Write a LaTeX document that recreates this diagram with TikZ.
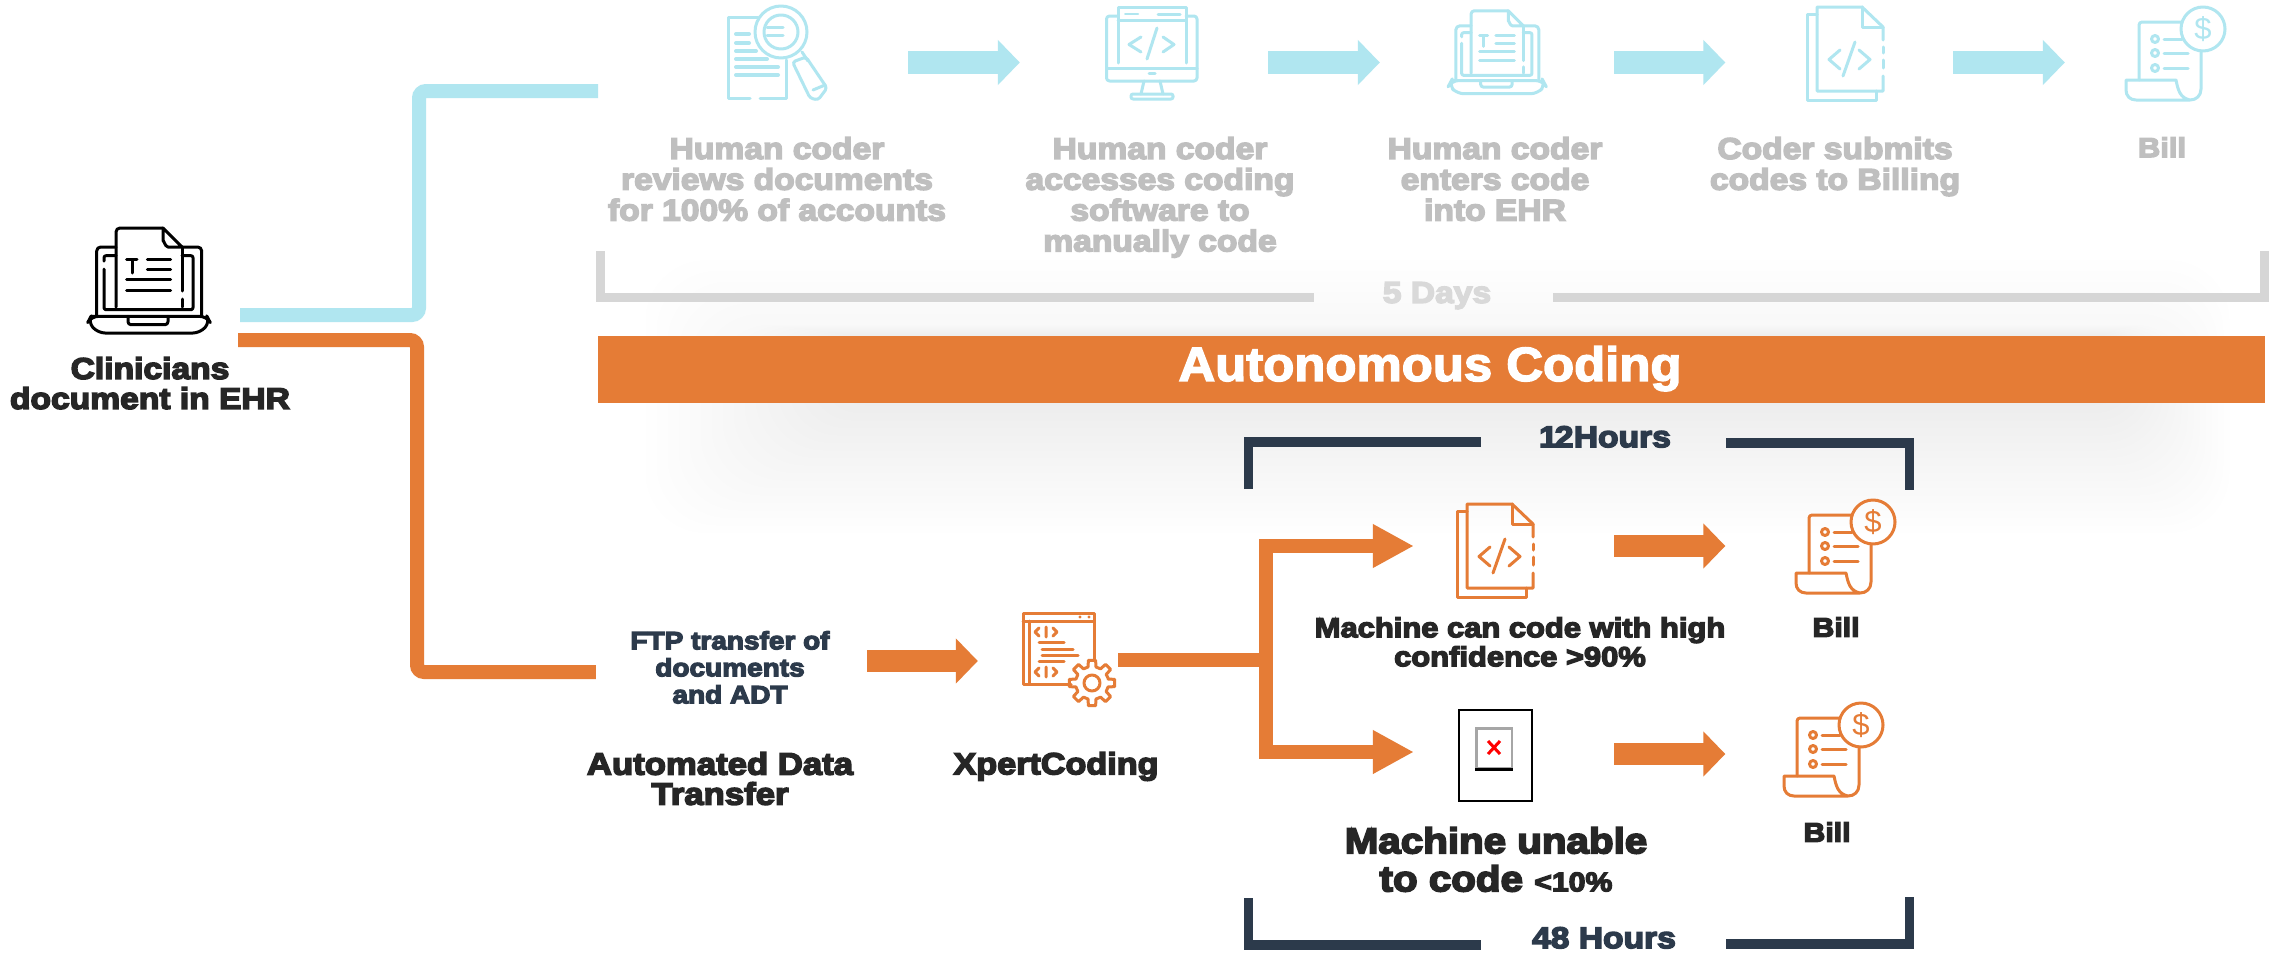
\documentclass[tikz,border=0pt]{standalone}
\usepackage{fontspec}
\usetikzlibrary{arrows.meta}
\setmainfont{Liberation Sans}
\newfontfamily\blk[FakeBold=5,FakeStretch=1.12]{Liberation Sans Bold}
\newfontfamily\blkb[FakeBold=3,FakeStretch=1.06]{Liberation Sans Bold}
\definecolor{lblue}{HTML}{B0E6F0}
\definecolor{orng}{HTML}{E57C36}
\definecolor{navy}{HTML}{2C3A4B}
\definecolor{gtext}{HTML}{BFBFBF}
\definecolor{gfaint}{HTML}{D9D9D9}
\definecolor{gbrack}{HTML}{D6D6D6}
\definecolor{dark}{HTML}{262626}
\newcommand{\fnt}[2]{\blk\fontsize{#1}{#2}\selectfont}
\tikzset{
  icon/.style={line width=3pt,line cap=round,line join=round},
  lbl/.style={anchor=north,align=center,inner sep=0pt,text=dark},
  glbl/.style={lbl,text=gtext,font=\fnt{30}{30.8}},
  slot/.style={inner sep=0pt,minimum height=1pt},
  bluewire/.style={draw=lblue,line width=14pt,rounded corners=7pt},
  orgwire/.style={draw=orng,line width=14pt,rounded corners=7pt},
  orgbranch/.style={draw=orng,line width=14pt,-{Triangle[length=41pt,width=41pt]}},
  orgplain/.style={draw=orng,line width=14pt},
  bluearrow/.style={draw=lblue,line width=23pt,-{Triangle[length=22pt,width=44pt]}},
  orgarrow/.style={draw=orng,line width=22pt,-{Triangle[length=22pt,width=44pt]}},
  gbr/.style={draw=gbrack,line width=9pt},
  nbr/.style={draw=navy,line width=9.5pt},
  pics/billicon/.style={code={
    \begin{scope}[icon]
    \draw (77,23) circle (22);
    \node[inner sep=0pt,font=\fontsize{31}{31}\selectfont] (dollar) at (77,23) {\$};
    \draw[rounded corners=3pt] (55,16) -- (13,16) -- (13,74);
    \draw (75,45) -- (75,83) .. controls (75,90) and (70,94) .. (64,94) -- (10,94) .. controls (4,94) and (0,90) .. (0,84) -- (0,74) -- (50,74) .. controls (52,84) and (54,92) .. (64,94);
    \draw (29,33) circle (3.5) (29,47) circle (3.5) (29,62) circle (3.5);
    \draw (38,33) -- (56,33) (38,47) -- (62,47) (38,62) -- (62,62);
    \end{scope}}},
  pics/doccode/.style={code={
    \begin{scope}[icon]
    \draw (76,34) -- (76,21) -- (55,1) -- (10,1) -- (10,85) -- (76,85) -- (76,70);
    \draw (55,1) -- (55,21) -- (76,21);
    \draw (76,41) -- (76,47) (76,54) -- (76,62);
    \draw (10,8) -- (0,8) -- (0,94) -- (69,94) -- (69,85);
    \draw (33,44) -- (22,53.5) -- (33,63);
    \draw (48,36) -- (36,70);
    \draw (52,44) -- (63,53.5) -- (52,63);
    \end{scope}}},
  pics/laptopdoc/.style={code={
    \begin{scope}[icon]
    \draw (75,1) -- (32,1) to[out=180,in=90] (28,5) -- (28,80);
    \draw (75,1) -- (94,20) -- (80,20) to[out=180,in=90] (75,14) -- (75,1);
    \draw (94,20) -- (94,64) (94,72) -- (94,80);
    \draw[rounded corners=4pt] (28,20) -- (8.7,20) -- (8.7,89);
    \draw[rounded corners=4pt] (94,20) -- (113.7,20) -- (113.7,89);
    \draw[rounded corners=2pt] (28,28.7) -- (16,28.7) -- (16,34);
    \draw[rounded corners=2pt] (16,42) -- (16,82.7) -- (105,82.7) -- (105,28.7) -- (94,28.7);
    \draw[rounded corners=7pt] (3,89.4) -- (119,89.4) -- (122,95) -- (112,106) -- (10,106) -- (0,95) -- (3,89.4) -- (5,89.4);
    \draw[rounded corners=3pt] (40,89.4) -- (40,97.7) -- (80,97.7) -- (80,89.4);
    \draw (38.7,32.7) -- (49,32.7) (44,32.7) -- (44,46);
    \draw (59.3,32.7) -- (82.7,32.7) (59.3,42.7) -- (82.7,42.7);
    \draw (38.7,52.7) -- (82.7,52.7) (38.7,63.7) -- (82.7,63.7);
    \end{scope}}},
  pics/searchdoc/.style={code={
    \begin{scope}[icon]
    \draw (30,12) -- (0,12) -- (0,93) -- (22,93) (32,93) -- (58,93) -- (58,55);
    \draw[line width=4pt] (8,29) -- (21,29) (8,38) -- (21,38) (8,46) -- (28,46) (8,54) -- (39,54) (8,62) -- (50,62) (8,70) -- (50,70);
    \draw (53,27) circle (26) (53,27) circle (17);
    \draw (39,22) -- (55,22) (39,30) -- (55,30);
    \draw (74,47) -- (80,56);
    \draw[rounded corners=3pt] (64.5,57) -- (78,52) -- (99,83) -- (90,95) -- (82,93) -- cycle;
    \draw (85,85) -- (97,80);
    \end{scope}}},
  pics/monitorcode/.style={code={
    \begin{scope}[icon]
    \draw (13,57) -- (13,1) -- (81,1) -- (81,57);
    \draw (13,14.7) -- (81,14.7);
    \draw[line width=2pt] (20,8) -- (33,8);
    \draw (53,8) -- (75,8);
    \draw[rounded corners=3pt] (13,10) -- (1.5,10) -- (1.5,75) -- (92,75) -- (92,10) -- (81,10);
    \draw (1.5,62) -- (92,62);
    \draw (44,67) -- (50,67);
    \draw (39,75) -- (36,88) (55,75) -- (58,88);
    \draw[rounded corners=2pt] (26,93) -- (26,88) -- (68,88) -- (68,93) -- cycle;
    \draw (36,31) -- (24,38.5) -- (36,46);
    \draw (52,22) -- (42,53);
    \draw (58,31) -- (69,38.5) -- (58,46);
    \end{scope}}},
  pics/windowgear/.style={code={
    \begin{scope}[icon]
    \draw (48,71) -- (0,71) -- (0,0) -- (71,0) -- (71,47);
    \draw (0,8) -- (71,8) (6,8) -- (6,71);
    \fill (57,4) circle (1.6) (66,4) circle (1.6);
    \draw (16,15) -- (12,19) -- (16,23) (23,14) -- (23,24) (30,15) -- (34,19) -- (30,23);
    \draw (16,55) -- (12,59) -- (16,63) (23,54) -- (23,64) (30,55) -- (34,59) -- (30,63);
    \draw (16,29) -- (41,29) (19,36) -- (50,36) (19,42) -- (55,42) (16,48) -- (41,48);
    \draw[shift={(69,70)}] (-14:17) \foreach \a in {0,45,...,315} { -- (\a-14:16.5) -- (\a-9:23) -- (\a+9:23) -- (\a+14:16.5) } -- cycle;
    \draw (69,70) circle (8);
    \end{scope}}}
}
\begin{document}
\begin{tikzpicture}[x=1pt,y=-1pt]
\useasboundingbox (0,0) rectangle (2279,953);
\fill[white] (0,0) rectangle (2279,953);
% soft shadow round the banner
\foreach \i in {1,...,18}{
  \pgfmathsetmacro{\p}{\i*0.39}
  \pgfmathsetmacro{\yt}{\i<=7 ? 250+75*\i/7 : 325+(\i-7)}
  \pgfmathsetmacro{\yb}{540-\i*7.5}
  \pgfmathsetmacro{\xl}{635+\i*11}
  \pgfmathsetmacro{\xr}{2235-\i*6}
  \pgfmathsetmacro{\rr}{min(60,(\yb-\yt)/2.1)}
  \fill[black!\p!white,rounded corners=\rr pt] (\xl,\yt) rectangle (\xr,\yb);
}
% banner
\node[fill=orng,minimum width=1667pt,minimum height=67pt,inner sep=0pt] (banner) at (1431.5,369.5) {};
\node[anchor=north,inner sep=0pt,text=white,font=\blkb\fontsize{48}{48}\selectfont] (bantext) at (1430,346) {Autonomous Coding};
% slots the arrows join
\node[slot,minimum width=310pt] (ic1) at (753,62.5) {};
\node[slot,minimum width=248pt] (ic2) at (1144,62.5) {};
\node[slot,minimum width=234pt] (ic3) at (1497,62.5) {};
\node[slot,minimum width=227.5pt] (ic4) at (1839.25,62.5) {};
\node[slot,minimum width=170pt] (ic5) at (2150,62.5) {};
\node[slot,minimum width=180pt] (lap) at (150,327.5) {};
\node[slot,minimum width=271pt] (ftpb) at (731.5,661) {};
\node[slot,minimum width=140pt] (xpb) at (1048,661) {};
\node[slot,minimum width=200pt] (hc) at (1514,546) {};
\node[slot,minimum width=200pt] (nc) at (1514,752) {};
\node[slot,minimum width=155pt] (bi1) at (1803,546) {};
\node[slot,minimum width=155pt] (bi2) at (1803,754) {};
\coordinate (bluetop) at (598,91);
\coordinate (bluecol) at (419,200);
\coordinate (orgcol) at (417,500);
\coordinate (split) at (1266,660);
% connectors
\draw[bluewire] ([yshift=12.5pt]lap.east) -| (bluecol) |- (bluetop);
\draw[orgwire] ([xshift=-2pt,yshift=-12.5pt]lap.east) -| (orgcol) |- ([yshift=-11pt]ftpb.west);
\draw[bluearrow] (ic1.east) -- (ic2.west);
\draw[bluearrow] (ic2.east) -- (ic3.west);
\draw[bluearrow] (ic3.east) -- (ic4.west);
\draw[bluearrow] (ic4.east) -- (ic5.west);
\draw[orgarrow] (ftpb.east) -- (xpb.west);
\draw[orgplain] ([yshift=1pt]xpb.east) -- (split);
\draw[orgbranch] (split) |- (hc.west);
\draw[orgbranch] (split) |- (nc.west);
\draw[orgarrow] (hc.east) -- (bi1.west);
\draw[orgarrow] ([yshift=-2pt]nc.east) -- (bi2.west);
% brackets
\draw[gbr] (600.5,251) -- (600.5,297.5) -- (1314,297.5);
\draw[gbr] (1553,297.5) -- (2264.5,297.5) -- (2264.5,251);
\draw[nbr] (1248.5,489) -- (1248.5,442) -- (1481,442);
\draw[nbr] (1726,443) -- (1909.5,443) -- (1909.5,490);
\draw[nbr] (1248.5,898) -- (1248.5,945) -- (1481,945);
\draw[nbr] (1726,944) -- (1909.5,944) -- (1909.5,897);
% icons
\pic[color=lblue] at (728,5) {searchdoc};
\pic[color=lblue] at (1105,6) {monitorcode};
\pic[color=lblue,scale=0.79] at (1449,10) {laptopdoc};
\pic[color=lblue] at (1807,6) {doccode};
\pic[color=lblue] at (2126,6) {billicon};
\pic[color=black] at (88,227) {laptopdoc};
\pic[color=orng] at (1023,613) {windowgear};
\pic[color=orng] at (1457,503) {doccode};
\pic[color=orng] at (1796,499) {billicon};
\pic[color=orng] at (1784,702) {billicon};
% broken picture placeholder
\node[draw=black,fill=white,line width=2.5pt,minimum width=73pt,minimum height=91pt,inner sep=0pt] (broken) at (1495.5,755.5) {};
\fill[black!35] (1475,727) rectangle (1513,771);
\fill[white] (1478,730) rectangle (1511,767);
\fill[black] (1475,768) rectangle (1513,771);
\draw[red,line width=3pt] (1488,741) -- (1500,754) (1500,741) -- (1488,754);
% texts
\node[glbl] (t1) at (777,137) {Human coder\\reviews documents\\for 100\% of accounts};
\node[glbl] (t2) at (1160,137) {Human coder\\accesses coding\\software to\\manually code};
\node[glbl] (t3) at (1495,137) {Human coder\\enters code\\into EHR};
\node[glbl] (t4) at (1835,137) {Coder submits\\codes to Billing};
\node[glbl,font=\fnt{27.5}{30}] (t5) at (2162,137) {Bill};
\node[glbl,text=gfaint] (days) at (1437,282) {5 Days};
\node[lbl,font=\fnt{30}{30}] (clin) at (150,357) {Clinicians\\document in EHR};
\node[lbl,text=navy,font=\fnt{25}{27}] (ftp) at (730,631) {FTP transfer of\\documents\\and ADT};
\node[lbl,font=\fnt{31}{30}] (adt) at (720,752) {Automated Data\\Transfer};
\node[lbl,font=\fnt{30.5}{30}] (xpert) at (1056,752) {XpertCoding};
\node[lbl,font=\fnt{27.6}{29}] (mhigh) at (1520,617) {Machine can code with high\\confidence >90\%};
\node[lbl,font=\fnt{27}{29}] (b1) at (1836,617) {Bill};
\node[lbl,font=\fnt{27}{29}] (b2) at (1827,822) {Bill};
\node[lbl,font=\fnt{36}{38}] (mlow) at (1496,827) {Machine unable\\to code {\fnt{27}{38}<10\%}};
\node[lbl,text=navy,font=\fnt{30}{30}] (h12) at (1605,426) {1\kern-3pt 2 \kern-9pt Hours};
\node[lbl,text=navy,font=\fnt{30}{30}] (h48) at (1604,927) {48 Hours};
\end{tikzpicture}
\end{document}
